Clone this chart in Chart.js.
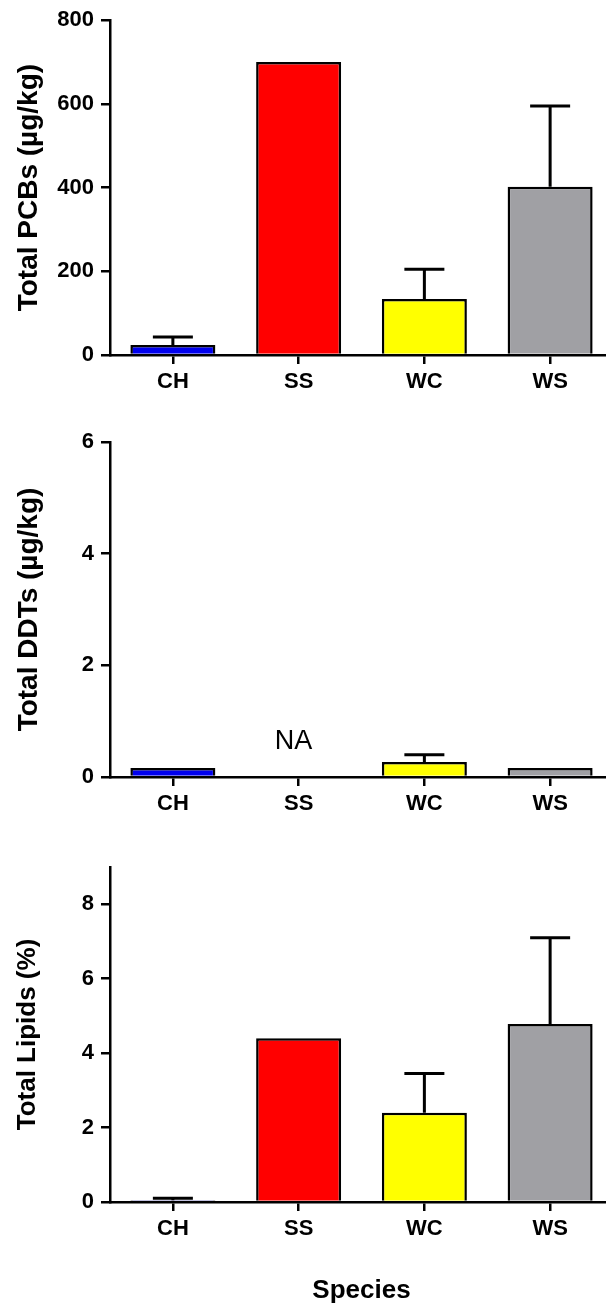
<!DOCTYPE html>
<html>
<head>
<meta charset="utf-8">
<title>Contaminants and lipids by species</title>
<script src="https://cdn.jsdelivr.net/npm/chart.js@4.4.1/dist/chart.umd.min.js"></script>
<style>
  html, body { margin: 0; padding: 0; background: #fff; overflow: hidden; }
  #page { position: relative; width: 606px; height: 1311px; overflow: hidden; }
  canvas { position: absolute; left: 0; }
</style>
</head>
<body>
<div id="page">
  <canvas id="pcbChart" width="613" height="400" style="top:0px"></canvas>
  <canvas id="ddtChart" width="613" height="400" style="top:420px"></canvas>
  <canvas id="lipidChart" width="613" height="466" style="top:845px"></canvas>
</div>
<script>
var species = ['CH', 'SS', 'WC', 'WS'];
var barColors = ['#0000ee', '#ff0000', '#ffff00', '#a0a0a4'];

// Total PCBs (ug/kg): mean and top of the error bar
var pcbMean = [24, 700, 134, 402];
var pcbUpper = [43, null, 205, 595];
var pcbTicks = [0, 200, 400, 600, 800];

// Total DDTs (ug/kg), SS not analysed
var ddtMean = [0.16, null, 0.27, 0.16];
var ddtUpper = [null, null, 0.40, null];
var ddtNotes = [null, 'NA', null, null];
var ddtTicks = [0, 2, 4, 6];

// Total lipids (%)
var lipidMean = [0.05, 4.4, 2.4, 4.78];
var lipidUpper = [0.1, null, 3.45, 7.1];
var lipidTicks = [0, 2, 4, 6, 8];

Chart.defaults.font.family = '"Liberation Sans", Arial, sans-serif';
Chart.defaults.color = '#000';

// draws the upper error bars and text notes (NA)
var errorBars = {
    id: 'errorBars',
    afterDatasetsDraw: function (chart) {
        var ds = chart.data.datasets[0];
        var meta = chart.getDatasetMeta(0);
        var yScale = chart.scales.y;
        var ctx = chart.ctx;
        ctx.save();
        ctx.strokeStyle = '#000';
        ctx.lineWidth = 3;
        meta.data.forEach(function (bar, i) {
            var top = ds.upper[i];
            if (top == null || ds.data[i] == null) return;
            var y0 = yScale.getPixelForValue(ds.data[i]);
            var y1 = yScale.getPixelForValue(top);
            var half = 20;
            ctx.beginPath();
            ctx.moveTo(bar.x, y0);
            ctx.lineTo(bar.x, y1);
            ctx.moveTo(bar.x - half, y1);
            ctx.lineTo(bar.x + half, y1);
            ctx.stroke();
        });
        if (ds.notes) {
            ctx.fillStyle = '#000';
            ctx.font = '27px "Liberation Sans", Arial, sans-serif';
            ctx.textAlign = 'center';
            ctx.textBaseline = 'middle';
            ds.notes.forEach(function (note, i) {
                if (!note) return;
                ctx.fillText(note, chart.scales.x.getPixelForValue(i) - 5, yScale.getPixelForValue(0) - 35);
            });
        }
        ctx.restore();
    }
};

function makePanel(id, yTitle, titleSize, means, upper, notes, ticks, maxY, padTop, xHeight, showSpecies) {
    return new Chart(document.getElementById(id), {
        type: 'bar',
        data: {
            labels: species,
            datasets: [{
                data: means,
                upper: upper,
                notes: notes,
                backgroundColor: barColors,
                borderColor: '#000',
                borderWidth: 2.5,
                borderSkipped: 'start',
                barPercentage: 0.676,
                categoryPercentage: 1
            }]
        },
        options: {
            responsive: false,
            animation: false,
            layout: { padding: { top: padTop, right: 0, bottom: 0, left: 0 } },
            plugins: {
                legend: { display: false },
                tooltip: { enabled: false }
            },
            scales: {
                x: {
                    grid: { drawOnChartArea: false, offset: false, tickLength: 9, color: '#000', lineWidth: 2.5 },
                    border: { color: '#000', width: 2.5 },
                    ticks: { padding: 5, font: { size: 22, weight: 'bold' } },
                    title: {
                        display: showSpecies,
                        text: 'Species',
                        font: { size: 26, weight: 'bold' },
                        padding: { top: 0, bottom: 5 }
                    },
                    afterFit: function (scale) { scale.height = xHeight; }
                },
                y: {
                    min: 0,
                    max: maxY,
                    grid: { drawOnChartArea: false, tickLength: 9, color: '#000', lineWidth: 2.5 },
                    border: { color: '#000', width: 2.5 },
                    ticks: { padding: 7, font: { size: 22, weight: 'bold' } },
                    afterBuildTicks: function (scale) {
                        scale.ticks = ticks.map(function (v) { return { value: v }; });
                    },
                    title: {
                        display: true,
                        text: yTitle,
                        font: { size: titleSize, weight: 'bold' },
                        padding: { top: 12, bottom: 0 }
                    },
                    afterFit: function (scale) { scale.width = 110; }
                }
            }
        },
        plugins: [errorBars]
    });
}

document.addEventListener('DOMContentLoaded', function () {
    makePanel('pcbChart', 'Total PCBs (\u00b5g/kg)', 28, pcbMean, pcbUpper, null, pcbTicks, 800, 20, 45, false);
    makePanel('ddtChart', 'Total DDTs (\u00b5g/kg)', 28, ddtMean, ddtUpper, ddtNotes, ddtTicks, 6, 22, 43, false);
    makePanel('lipidChart', 'Total Lipids (%)', 26, lipidMean, lipidUpper, null, lipidTicks, 9, 22, 109, true);
});
</script>
</body>
</html>
